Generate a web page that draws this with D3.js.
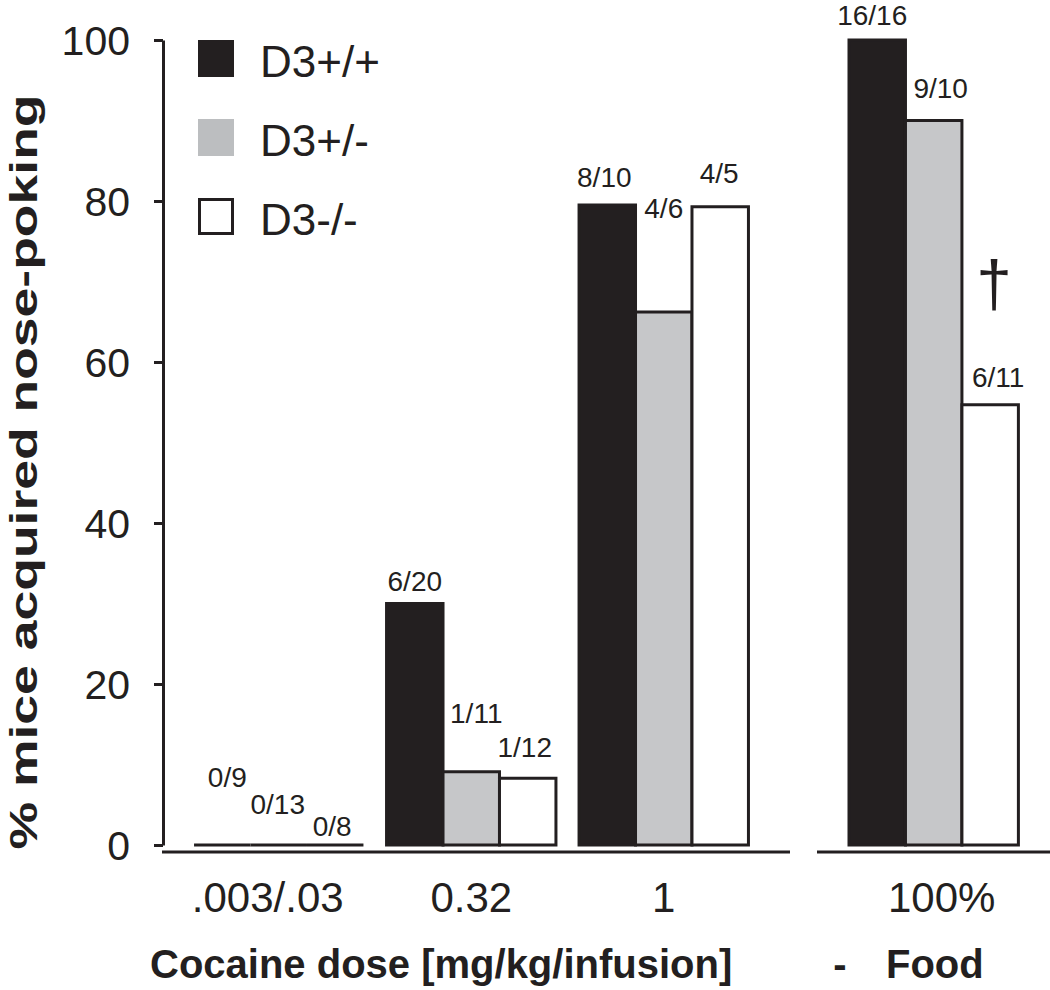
<!DOCTYPE html>
<html>
<head>
<meta charset="utf-8">
<script src="https://cdn.jsdelivr.net/npm/d3@7"></script>
<style>
  html, body { margin: 0; padding: 0; background: #ffffff; }
  svg { display: block; }
  text { font-family: "Liberation Sans", Arial, Helvetica, sans-serif; fill: #231f20; }
</style>
</head>
<body>
<script>
// ---------------- data ----------------
const doses = [".003/.03", "0.32", "1"];
const foodCats = ["100%"];
const categories = [".003/.03", "0.32", "1", "100%"];
const genotypes = ["D3+/+", "D3+/-", "D3-/-"];
const wtValues  = [0, 30, 79.5, 100];
const hetValues = [0, 9.1, 66.2, 90];
const koValues  = [0, 8.3, 79.3, 54.7];
const wtLabels  = ["0/9", "6/20", "8/10", "16/16"];
const hetLabels = ["0/13", "1/11", "4/6", "9/10"];
const koLabels  = ["0/8", "1/12", "4/5", "6/11"];
const yTicks = [0, 20, 40, 60, 80, 100];
const yTitle = "% mice acquired nose-poking";
const xTitle = "Cocaine dose [mg/kg/infusion]";
const xTitle2 = "Food";

// ---------------- layout ----------------
const W = 1050, H = 990;
const INK = "#231f20";
const fills = ["#231f20", "#c6c7c9", "#ffffff"];
// per-bar label placement (pixels above bar top, horizontal nudge)
const labelLift = [[58, 31, 9], [13, 49, 21], [18, 94, 24], [15, 23, 18]];
const labelNudge = [[5, -1, -3], [0, 5, -3], [-3, 0, -1], [-5, 7, 8]];

const svg = d3.select("body").append("svg").attr("width", W).attr("height", H);

const y = d3.scaleLinear().domain([0, 100]).range([845, 40]);
const xDose = d3.scaleBand().domain(doses).range([182.5, 760]).paddingInner(0.12).paddingOuter(0.06);
const xFood = d3.scaleBand().domain(foodCats).range([849, 849 + xDose.bandwidth()]);
const xSub = d3.scaleBand().domain(genotypes).range([0, xDose.bandwidth()]);
const xGroup = c => doses.includes(c) ? xDose(c) : xFood(c);

const series = [wtValues, hetValues, koValues];
const labels = [wtLabels, hetLabels, koLabels];

const bars = [];
categories.forEach((c, i) => {
  genotypes.forEach((g, j) => {
    bars.push({ c, g, i, j, v: series[j][i], label: labels[j][i] });
  });
});

// ---------------- axes ----------------
const yAxis = svg.append("g")
  .attr("transform", "translate(163,0)")
  .call(d3.axisLeft(y).tickValues(yTicks).tickSize(9).tickSizeOuter(0).tickPadding(24));
yAxis.select(".domain").attr("stroke", INK).attr("stroke-width", 3);
yAxis.selectAll(".tick line").attr("stroke", INK).attr("stroke-width", 3);
yAxis.selectAll(".tick text")
  .attr("font-size", 41)
  .attr("font-family", "Liberation Sans, Arial, sans-serif")
  .attr("fill", INK)
  .attr("dy", "0.36em");

// x baselines (broken axis)
svg.append("line")
  .attr("x1", 162).attr("x2", xDose.range()[1] + 30)
  .attr("y1", y(0) + 7).attr("y2", y(0) + 7)
  .attr("stroke", INK).attr("stroke-width", 3);
svg.append("line")
  .attr("x1", xFood.range()[0] - 32).attr("x2", W)
  .attr("y1", y(0) + 7).attr("y2", y(0) + 7)
  .attr("stroke", INK).attr("stroke-width", 3);

const xAxis1 = svg.append("g")
  .attr("transform", `translate(0,${y(0) + 7})`)
  .call(d3.axisBottom(xDose).tickSize(0).tickPadding(30));
const xAxis2 = svg.append("g")
  .attr("transform", `translate(0,${y(0) + 7})`)
  .call(d3.axisBottom(xFood).tickSize(0).tickPadding(30));
[xAxis1, xAxis2].forEach(ax => {
  ax.select(".domain").remove();
  ax.selectAll(".tick text")
    .attr("font-size", 42)
    .attr("font-family", "Liberation Sans, Arial, sans-serif")
    .attr("fill", INK);
});
xAxis1.selectAll(".tick text").attr("dx", (d, k) => k === 0 ? -11 : 0);
xAxis2.selectAll(".tick text").attr("dx", 8);

// ---------------- bars ----------------
svg.append("g").selectAll("path")
  .data(bars)
  .join("path")
  .attr("d", d => {
    const x0 = xGroup(d.c) + xSub(d.g);
    const x1 = x0 + xSub.bandwidth();
    return `M${x0},${y(0)}V${y(d.v)}H${x1}V${y(0)}Z`;
  })
  .attr("fill", d => fills[d.j])
  .attr("stroke", INK)
  .attr("stroke-width", 3)
  .attr("stroke-linejoin", "miter");

// bar labels
svg.append("g").selectAll("text")
  .data(bars)
  .join("text")
  .attr("x", d => xGroup(d.c) + xSub(d.g) + xSub.bandwidth() / 2 + labelNudge[d.i][d.j])
  .attr("y", d => y(d.v) - labelLift[d.i][d.j])
  .attr("text-anchor", "middle")
  .attr("font-size", 28)
  .text(d => d.label);

// dagger
svg.append("text")
  .attr("x", xFood(foodCats[0]) + xSub("D3-/-") + xSub.bandwidth() / 2 + 4)
  .attr("y", y(koValues[3]) - 99)
  .attr("text-anchor", "middle")
  .attr("font-family", "DejaVu Serif, serif")
  .attr("font-size", 64)
  .text("\u2020");

// ---------------- legend ----------------
const legend = svg.append("g").attr("transform", "translate(198,40)");
const lg = legend.selectAll("g").data(genotypes).join("g")
  .attr("transform", (d, k) => `translate(0,${k * 79})`);
lg.append("rect")
  .attr("x", (d, k) => k === 2 ? 1.5 : 0)
  .attr("y", (d, k) => k === 2 ? 1.5 : 0)
  .attr("width", (d, k) => k === 2 ? 33 : 36)
  .attr("height", (d, k) => k === 2 ? 34 : 37)
  .attr("fill", (d, k) => k === 1 ? "#bcbec0" : fills[k])
  .attr("stroke", (d, k) => k === 2 ? INK : "none")
  .attr("stroke-width", 3);
lg.append("text")
  .attr("x", 62)
  .attr("y", 37)
  .attr("font-size", 44)
  .text(d => d);

// ---------------- titles ----------------
svg.append("text")
  .attr("transform", "translate(37,472) rotate(-90)")
  .attr("text-anchor", "middle")
  .attr("font-weight", "bold")
  .attr("font-size", 38)
  .attr("textLength", 755)
  .attr("lengthAdjust", "spacingAndGlyphs")
  .text(yTitle);

svg.append("text")
  .attr("x", 150)
  .attr("y", 978)
  .attr("font-weight", "bold")
  .attr("font-size", 40)
  .text(xTitle);
svg.append("text")
  .attr("x", 840)
  .attr("y", 978)
  .attr("text-anchor", "middle")
  .attr("font-weight", "bold")
  .attr("font-size", 40)
  .text("-");
svg.append("text")
  .attr("x", 886)
  .attr("y", 978)
  .attr("font-weight", "bold")
  .attr("font-size", 40)
  .text(xTitle2);
</script>
</body>
</html>
